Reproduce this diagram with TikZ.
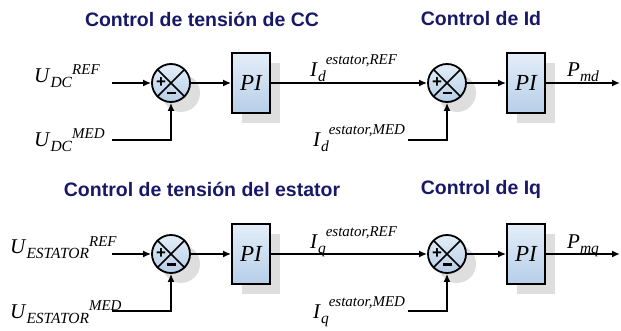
\documentclass[tikz,border=0pt]{standalone}
\usepackage{fontspec}
\setmainfont{Liberation Serif}
\newfontfamily\titlefont{Liberation Sans}
\usetikzlibrary{arrows.meta,calc}
\definecolor{navy}{RGB}{24,24,104}
\definecolor{shadowgray}{RGB}{222,222,222}
\definecolor{boxtop}{RGB}{228,238,248}
\definecolor{boxbot}{RGB}{182,206,232}
% main symbol, subscript, superscript, raise of superscript
\newcommand\sig[4]{\fontsize{21}{21}\selectfont\textit{#1}\raisebox{-5pt}{\fontsize{15.5}{15.5}\selectfont\textit{#2}}\raisebox{#4}{\fontsize{15}{15}\selectfont\textit{#3}}}
\tikzset{
  wire/.style={line width=1.8pt},
  arr/.style={wire,-{Latex[length=8pt,width=7pt]}},
  title/.style={font=\titlefont\bfseries\fontsize{19.5}{20}\selectfont,text=navy,inner sep=0pt},
  lbl/.style={inner sep=0pt,anchor=base west},
  sumnode/.style={circle,draw,line width=1.8pt,minimum size=38pt,inner sep=0pt,
     shading=axis,top color=boxtop,bottom color=boxbot},
  pibox/.style={rectangle,draw,line width=1.8pt,minimum width=38pt,minimum height=60pt,inner sep=0pt,
     shading=axis,top color=boxtop,bottom color=boxbot,font=\fontsize{23}{23}\selectfont\itshape},
  sumshadow/.style={circle,fill=shadowgray,minimum size=38pt,inner sep=0pt},
  boxshadow/.style={rectangle,fill=shadowgray,minimum width=38pt,minimum height=60pt,inner sep=0pt},
  sgn/.style={font=\titlefont\bfseries\fontsize{17}{17}\selectfont,inner sep=0pt}
}
\newcommand\sumx[1]{%
  \draw[line width=1.6pt] ($(#1.center)+(45:19pt)$) -- ($(#1.center)+(225:19pt)$);
  \draw[line width=1.6pt] ($(#1.center)+(135:19pt)$) -- ($(#1.center)+(315:19pt)$);
  \node[sgn] at ($(#1.center)+(-10pt,0pt)$) {+};
  \fill ($(#1.center)+(-4.5pt,-9pt)$) rectangle ($(#1.center)+(4.5pt,-11.5pt)$);
}
\begin{document}
\begin{tikzpicture}[x=1pt,y=-1pt]
\useasboundingbox (0,0) rectangle (621,331);
% ---------- titles ----------
\node[title] (t1) at (202,19) {Control de tensión de CC};
\node[title] (t2) at (481,19) {Control de Id};
\node[title] (t3) at (202,189) {Control de tensión del estator};
\node[title] (t4) at (481,189) {Control de Iq};

% ---------- row 1 ----------
\node[sumshadow] at (181,93) {};
\node[boxshadow] at (261,93) {};
\node[sumshadow] at (457,93) {};
\node[boxshadow] at (536,93) {};
\node[sumnode] (s1) at (171,83) {};
\node[pibox] (p1) at (251,83) {PI};
\node[sumnode] (s2) at (447,83) {};
\node[pibox] (p2) at (526,83) {PI};
\sumx{s1}\sumx{s2}

\node[lbl] (u1r) at (34,83) {\sig{U}{DC}{REF}{8pt}};
\node[lbl] (u1m) at (34,147) {\sig{U}{DC}{MED}{8pt}};
\node[lbl] (i1r) at (310,77) {\sig{I}{d}{estator,REF}{12pt}};
\node[lbl] (i1m) at (313,147) {\sig{I}{d}{estator,MED}{12pt}};
\node[lbl] (pmd) at (567,77) {\sig{P}{md}{}{0pt}};

\coordinate (a1) at (112,83);
\coordinate (b1) at (112,140);
\coordinate (c1) at (408,140);
\coordinate (o1) at (620,83);
\draw[arr] (a1) -- (s1.west);
\draw[arr] (b1) -| (s1.south);
\draw[arr] (s1.east) -- (p1.west);
\draw[arr] (p1.east) -- (s2.west);
\draw[arr] (c1) -| (s2.south);
\draw[arr] (s2.east) -- (p2.west);
\draw[arr] (p2.east) -- (o1);

% ---------- row 2 ----------
\node[sumshadow] at (181,264) {};
\node[boxshadow] at (261,264) {};
\node[sumshadow] at (457,264) {};
\node[boxshadow] at (536,264) {};
\node[sumnode] (s3) at (171,254) {};
\node[pibox] (p3) at (251,254) {PI};
\node[sumnode] (s4) at (447,254) {};
\node[pibox] (p4) at (526,254) {PI};
\sumx{s3}\sumx{s4}

\node[lbl] (u2r) at (10,254) {\sig{U}{ESTATOR}{REF}{8pt}};
\node[lbl] (u2m) at (10,318) {\sig{U}{ESTATOR}{MED}{8pt}};
\node[lbl] (i2r) at (310,248) {\sig{I}{q}{estator,REF}{12pt}};
\node[lbl] (i2m) at (313,318) {\sig{I}{q}{estator,MED}{12pt}};
\node[lbl] (pmq) at (567,248) {\sig{P}{mq}{}{0pt}};

\coordinate (a2) at (112,254);
\coordinate (b2) at (112,311);
\coordinate (c2) at (408,311);
\coordinate (o2) at (620,254);
\draw[arr] (a2) -- (s3.west);
\draw[arr] (b2) -| (s3.south);
\draw[arr] (s3.east) -- (p3.west);
\draw[arr] (p3.east) -- (s4.west);
\draw[arr] (c2) -| (s4.south);
\draw[arr] (s4.east) -- (p4.west);
\draw[arr] (p4.east) -- (o2);
\end{tikzpicture}
\end{document}
